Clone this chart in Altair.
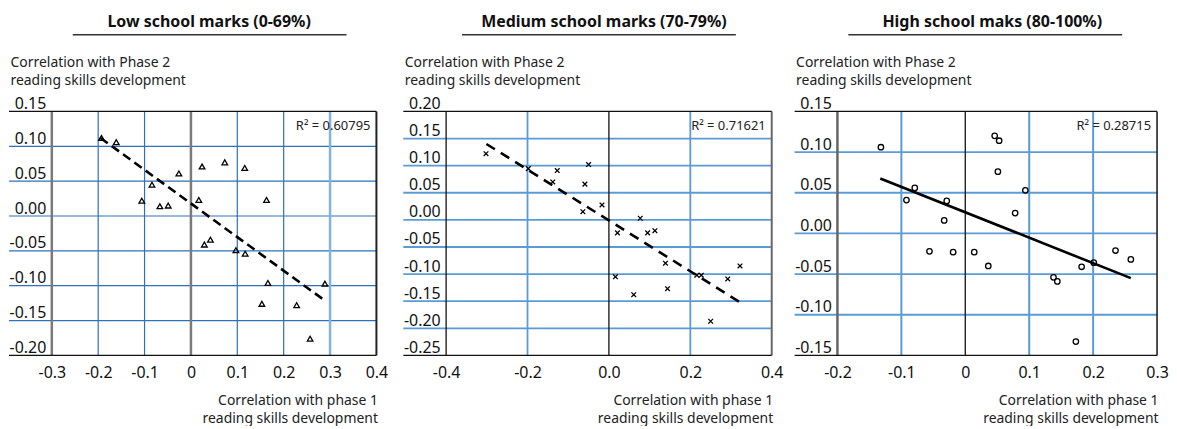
import altair as alt
import pandas as pd

FONT = "Noto Sans"

# ---------------- data ----------------
titles = ["Low school marks (0-69%)", "Medium school marks (70-79%)", "High school maks (80-100%)"]
y_title = ["Correlation with Phase 2", "reading skills development"]
x_title = ["Correlation with phase 1", "reading skills development"]
r2_labels = ["R\u00b2 = 0.60795", "R\u00b2 = 0.71621", "R\u00b2 = 0.28715"]

low_x = [-0.193, -0.161, -0.084, -0.026, 0.024, 0.073, 0.116, -0.106, -0.067, -0.049, 0.017,
         0.163, 0.029, 0.042, 0.097, 0.117, 0.166, 0.289, 0.153, 0.228, 0.257]
low_y = [0.112, 0.106, 0.045, 0.061, 0.071, 0.077, 0.069, 0.022, 0.014, 0.015, 0.023,
         0.023, -0.041, -0.034, -0.049, -0.054, -0.096, -0.097, -0.126, -0.128, -0.176]
low_trend_x = [-0.195, 0.284]
low_trend_y = [0.112, -0.119]

med_x = [-0.302, -0.198, -0.127, -0.138, -0.050, -0.059, -0.017, -0.064, 0.077, 0.021, 0.095,
         0.113, 0.139, 0.016, 0.216, 0.227, 0.322, 0.292, 0.144, 0.061, 0.250]
med_y = [0.122, 0.0945, 0.091, 0.070, 0.102, 0.066, 0.0275, 0.015, 0.003, -0.024, -0.024,
         -0.020, -0.080, -0.105, -0.102, -0.102, -0.085, -0.109, -0.127, -0.138, -0.187]
med_trend_x = [-0.301, 0.322]
med_trend_y = [0.140, -0.152]

high_x = [-0.132, 0.046, 0.053, 0.051, -0.079, -0.092, -0.029, 0.094, 0.078, -0.033, -0.056,
          -0.019, 0.014, 0.036, 0.138, 0.144, 0.182, 0.201, 0.235, 0.259, 0.173]
high_y = [0.106, 0.120, 0.114, 0.076, 0.056, 0.041, 0.040, 0.053, 0.025, 0.016, -0.022,
          -0.023, -0.023, -0.040, -0.054, -0.059, -0.041, -0.036, -0.021, -0.032, -0.133]
high_trend_x = [-0.133, 0.259]
high_trend_y = [0.0676, -0.055]

low_xticks = [-0.3, -0.2, -0.1, 0.0, 0.1, 0.2, 0.3, 0.4]
low_yticks = [0.15, 0.10, 0.05, 0.00, -0.05, -0.10, -0.15, -0.20]
med_xticks = [-0.4, -0.2, 0.0, 0.2, 0.4]
med_yticks = [0.20, 0.15, 0.10, 0.05, 0.00, -0.05, -0.10, -0.15, -0.20, -0.25]
high_xticks = [-0.2, -0.1, 0.0, 0.1, 0.2, 0.3]
high_yticks = [0.15, 0.10, 0.05, 0.00, -0.05, -0.10, -0.15]

H = 245
BLUE = "#2d72b8"
LBLUE = "#5b9bd5"
PALE = "#80b3df"


def fmt_expr(dec, zero_plain):
    base = "(datum.value < 0 ? '-' : '') + format(abs(datum.value), '.%df')" % dec
    if zero_plain:
        return "abs(datum.value) < 1e-9 ? '0' : " + base
    return base


def panel(idx, xs, ys, shape, size, xticks, yticks, tx, ty, dash, width, x_zero_plain,
          hgrid_color, hgrid_w, vstyles, underline):
    xdom = [xticks[0], xticks[-1]]
    ydom = [yticks[-1], yticks[0]]
    xscale = alt.Scale(domain=xdom, nice=False, zero=False)
    yscale = alt.Scale(domain=ydom, nice=False, zero=False)
    xaxis = alt.Axis(values=xticks, labelExpr=fmt_expr(1, x_zero_plain), grid=False, domain=False,
                     ticks=False, labelPadding=9, labelFontSize=16, labelFlush=False,
                     labelOverlap=False, title=x_title, titleAngle=0, titleAlign="right",
                     titleBaseline="alphabetic", titleX=width + 1, titleY=49,
                     titleLineHeight=18, titleFontSize=14, titleFontWeight="normal")
    yaxis = alt.Axis(values=yticks, labelExpr=fmt_expr(2, False), grid=False, domain=False,
                     ticks=False, labelPadding=6, labelFontSize=16, labelFlush=False,
                     labelOverlap=False, labelBaseline="alphabetic", labelOffset=-3,
                     title=y_title, titleAngle=0, titleAlign="left",
                     titleBaseline="alphabetic", titleX=-42, titleY=-45,
                     titleLineHeight=18, titleFontSize=14, titleFontWeight="normal")

    def X():
        return alt.X("x:Q", scale=xscale, axis=xaxis)

    def Y():
        return alt.Y("y:Q", scale=yscale, axis=yaxis)

    inner_y = pd.DataFrame({"y": yticks[1:-1]})
    edge_y = pd.DataFrame({"y": [yticks[0], yticks[-1]]})
    hgrid = alt.Chart(inner_y).mark_rule(color=hgrid_color, strokeWidth=hgrid_w).encode(
        y=Y(), x=alt.value(-43), x2=alt.value(width))
    hedge = alt.Chart(edge_y).mark_rule(color="#111", strokeWidth=1.3).encode(
        y=Y(), x=alt.value(-43), x2=alt.value(width))

    vlayers = []
    for color, sw, vals in vstyles:
        vlayers.append(alt.Chart(pd.DataFrame({"x": vals})).mark_rule(color=color, strokeWidth=sw).encode(
            x=X(), y=alt.value(0), y2=alt.value(H)))

    pts = alt.Chart(pd.DataFrame({"x": xs, "y": ys})).mark_point(
        shape=shape, size=size, filled=False, color="black", strokeWidth=1.3, opacity=1).encode(
        x=X(), y=Y())

    line_kw = dict(color="black", strokeWidth=2.6)
    if dash:
        line_kw["strokeDash"] = dash
    trend = alt.Chart(pd.DataFrame({"x": tx, "y": ty})).mark_line(**line_kw).encode(x=X(), y=Y())

    r2 = alt.Chart(pd.DataFrame({"t": [r2_labels[idx]]})).mark_text(
        align="right", baseline="alphabetic", fontSize=13, font=FONT, color="#222").encode(
        text="t:N", x=alt.value(width - 6), y=alt.value(19))

    uline = alt.Chart(pd.DataFrame({"t": [titles[idx]]})).mark_rule(color="#333", strokeWidth=1.6).encode(
        x=alt.value(underline[0]), x2=alt.value(underline[1]), y=alt.value(-77))

    return alt.layer(hgrid, *vlayers, hedge, trend, pts, r2, uline).properties(
        width=width, height=H,
        title=alt.TitleParams(titles[idx], fontSize=16, fontWeight="bold", font=FONT,
                              anchor="middle", dx=-5, offset=4, color="#111"))


p1 = panel(0, low_x, low_y, "triangle-up", 32, low_xticks, low_yticks, low_trend_x, low_trend_y,
           [9, 5], 326, True, BLUE, 1.2,
           [(BLUE, 1.2, [-0.2, -0.1, 0.1, 0.2]), (PALE, 2.5, [0.3]),
            ("#7a7a7a", 2.5, [-0.3, 0.0]), ("#222", 2.0, [0.4])],
           (21, 296))
p2 = panel(1, med_x, med_y, "M-1,-1L1,1M-1,1L1,-1", 22, med_xticks, med_yticks, med_trend_x, med_trend_y,
           [10, 7], 327, False, LBLUE, 1.8,
           [(LBLUE, 1.8, [-0.2, 0.2]), ("#111", 1.3, [-0.4, 0.0]), ("#666", 2.0, [0.4])],
           (16, 291))
p3 = panel(2, high_x, high_y, "circle", 30, high_xticks, high_yticks, high_trend_x, high_trend_y,
           None, 321, True, LBLUE, 1.8,
           [(LBLUE, 2.0, [-0.1, 0.1, 0.2]), ("#666", 2.5, [-0.2]), ("#111", 1.3, [0.0]), ("#222", 1.6, [0.3])],
           (11, 286))

chart = alt.hconcat(p1, alt.hconcat(p2, p3, spacing=10), spacing=14).properties(
    padding={"left": 0, "top": 5, "right": 0, "bottom": 0}
).configure_view(stroke=None).configure_axis(
    labelFont=FONT, titleFont=FONT, labelColor="#111", titleColor="#222"
).configure_title(font=FONT)

chart.save("out.html", embed_options={"renderer": "svg", "actions": False})
